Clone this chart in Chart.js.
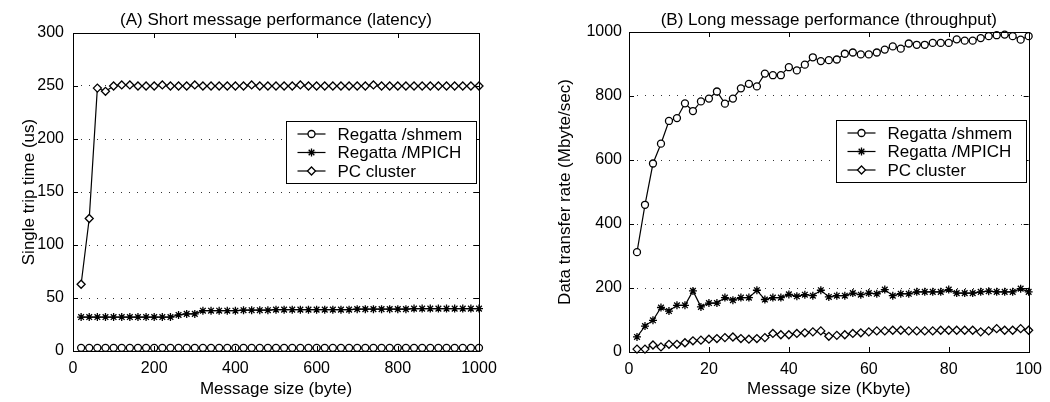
<!DOCTYPE html>
<html>
<head>
<meta charset="utf-8">
<script src="https://cdn.jsdelivr.net/npm/chart.js@4/dist/chart.umd.min.js"></script>
<style>
  body{margin:0;background:#fff;}
  #wrap{display:flex;width:1050px;height:402px;}
  canvas{display:block;}
</style>
</head>
<body>
<div id="wrap">
  <canvas id="chartA" width="525" height="402"></canvas>
  <canvas id="chartB" width="525" height="402"></canvas>
</div>
<script>
// (A) short messages, x in bytes
const sizeShort = [20,40,60,80,100,120,140,160,180,200,220,240,260,280,300,320,340,360,380,400,
  420,440,460,480,500,520,540,560,580,600,620,640,660,680,700,720,740,760,780,800,
  820,840,860,880,900,920,940,960,980,1000];
const shmemShort = [3,3,3,3,3,3,3,3,3,3,3,3,3,3,3,3,3,3,3,3,
  3,3,3,3,3,3,3,3,3,3,3,3,3,3,3,3,3,3,3,3,
  3,3,3,3,3,3,3,3,3,3];
const mpichShort = [32,32,32,32,32,32,32,32,32,32,32,32,34,35,35,38,38,38,38,38,
  38.5,38.5,38.5,38.5,39,39,39,39,39,39,39,39,39,39,39.5,39.5,39.5,39.5,39.5,39.5,
  39.5,40,40,40,40,40,40,40,40,40];
const pcShort = [63,125,248,245,250,251,251,250,250,250,251,250,250,250,251,250,250,250,250,250,
  250,251,250,250,250,250,250,251,250,250,250,250,250,250,250,250,251,250,250,250,
  250,250,250,250,250,250,250,250,250,250];
const xTicksShort = [0,200,400,600,800,1000];
const yTicksShort = [0,50,100,150,200,250,300];

// (B) long messages, x in Kbyte
const sizeLong = [2,4,6,8,10,12,14,16,18,20,22,24,26,28,30,32,34,36,38,40,
  42,44,46,48,50,52,54,56,58,60,62,64,66,68,70,72,74,76,78,80,
  82,84,86,88,90,92,94,96,98,100];
const shmemLong = [312,460,589,651,722,731,777,753,783,792,814,776,792,824,838,830,870,865,865,890,
  880,898,921,909,912,914,932,936,930,930,936,945,955,948,964,960,960,966,966,966,
  977,973,973,981,987,990,992,987,976,987];
const mpichLong = [47,81,99,139,128,146,146,191,141,153,153,170,162,170,170,193,164,170,170,180,
  174,179,176,193,172,176,176,184,179,184,182,195,176,182,182,188,188,188,188,195,
  184,184,184,188,190,188,188,188,198,188];
const pcLong = [9,9,22,16,24,24,29,35,37,40,42,45,47,42,40,42,45,58,54,54,
  58,60,63,66,49,52,54,58,60,63,66,66,68,68,66,66,66,66,68,68,
  68,68,68,63,66,73,68,68,73,68];
const xTicksLong = [0,20,40,60,80,100];
const yTicksLong = [0,200,400,600,800,1000];

const seriesNames = ["Regatta /shmem", "Regatta /MPICH", "PC cluster"];
const markers = [
  {pointStyle:"circle", radius:3.5, bw:1.3},
  {pointStyle:"star", radius:4, bw:1.3},
  {pointStyle:"rectRot", radius:4, bw:1.3}
];

Chart.defaults.font.family = "'Liberation Sans', Arial, sans-serif";
Chart.defaults.color = "#000";

function toXY(xs, ys){
  return xs.map((x,i)=>({x:x, y:ys[i]}));
}

// box, inward ticks, title and legend, MATLAB style
const frame = {
  id:"frame",
  afterDatasetsDraw(chart){
    const ctx = chart.ctx;
    const a = chart.chartArea;
    const o = chart.options.plugins.frame;
    ctx.save();
    ctx.strokeStyle = "#000";
    ctx.lineWidth = 1;
    ctx.strokeRect(Math.round(a.left)+0.5, Math.round(a.top)+0.5,
      Math.round(a.right-a.left), Math.round(a.bottom-a.top));
    const tl = 5;
    ctx.beginPath();
    chart.scales.x.ticks.forEach(t=>{
      const px = Math.round(chart.scales.x.getPixelForValue(t.value))+0.5;
      ctx.moveTo(px,a.bottom); ctx.lineTo(px,a.bottom-tl);
      ctx.moveTo(px,a.top); ctx.lineTo(px,a.top+tl);
    });
    chart.scales.y.ticks.forEach(t=>{
      const py = Math.round(chart.scales.y.getPixelForValue(t.value))+0.5;
      ctx.moveTo(a.left,py); ctx.lineTo(a.left+tl,py);
      ctx.moveTo(a.right,py); ctx.lineTo(a.right-tl,py);
    });
    ctx.stroke();

    // title
    ctx.font = "17px 'Liberation Sans', Arial";
    ctx.fillStyle = "#000";
    ctx.textAlign = "center";
    ctx.textBaseline = "alphabetic";
    ctx.fillText(o.title, (a.left+a.right)/2, 25);

    // legend
    const w = 190, h = 62;
    const bx = Math.round(a.right - 3 - w)+0.5, by = Math.round(a.top + 88)+0.5;
    ctx.fillStyle = "#fff";
    ctx.fillRect(bx,by,w,h);
    ctx.strokeRect(bx,by,w,h);
    ctx.textAlign = "left";
    ctx.textBaseline = "middle";
    seriesNames.forEach((name,i)=>{
      const cy = by + 12.5 + i*18.5;
      ctx.lineWidth = 1.2;
      ctx.beginPath();
      ctx.moveTo(bx+11,cy); ctx.lineTo(bx+39,cy);
      ctx.stroke();
      ctx.fillStyle = "#fff";
      ctx.strokeStyle = "#000";
      ctx.lineWidth = markers[i].bw;
      Chart.helpers.drawPoint(ctx, {pointStyle:markers[i].pointStyle, radius:markers[i].radius,
        borderWidth:markers[i].bw, rotation:0}, bx+25, cy);
      ctx.fillStyle = "#000";
      ctx.fillText(name, bx+51, cy+1);
    });
    ctx.restore();
  }
};

function makeChart(id, cfg){
  const datasets = cfg.series.map((ys,i)=>({
    label: seriesNames[i],
    data: toXY(cfg.xs, ys),
    borderColor:"#000",
    backgroundColor:"#fff",
    borderWidth:1.2,
    pointStyle: markers[i].pointStyle,
    pointRadius: markers[i].radius,
    pointBorderWidth: markers[i].bw,
    pointBackgroundColor:"#fff",
    pointBorderColor:"#000",
    tension:0,
    clip:false
  }));
  return new Chart(document.getElementById(id), {
    type:"line",
    data:{datasets:datasets},
    plugins:[frame],
    options:{
      responsive:false,
      animation:false,
      layout:{padding:{top:cfg.top, right:cfg.right, left:0, bottom:0}},
      plugins:{
        legend:{display:false},
        tooltip:{enabled:false},
        frame:{title:cfg.title}
      },
      scales:{
        x:{
          type:"linear",
          min:cfg.xTicks[0], max:cfg.xTicks[cfg.xTicks.length-1],
          afterBuildTicks:(s)=>{ s.ticks = cfg.xTicks.map(v=>({value:v})); },
          afterFit:(s)=>{ s.height = cfg.bottomH; },
          ticks:{font:{size:16}, padding:8, maxRotation:0, color:"#000", callback:(v)=>String(v)},
          grid:{display:false, drawTicks:false},
          border:{display:false},
          title:{display:true, text:cfg.xTitle, font:{size:17}, padding:{top:0,bottom:2}, color:"#000"}
        },
        y:{
          min:cfg.yTicks[0], max:cfg.yTicks[cfg.yTicks.length-1],
          afterBuildTicks:(s)=>{ s.ticks = cfg.yTicks.map(v=>({value:v})); },
          afterFit:(s)=>{ s.width = cfg.leftW; },
          ticks:{font:{size:16}, padding:cfg.yPad, color:"#000", callback:(v)=>String(v)},
          grid:{color:"#333", lineWidth:1, drawTicks:false},
          border:{display:false, dash:[1,7]},
          title:{display:true, text:cfg.yTitle, font:{size:17}, padding:{top:cfg.yTitlePad,bottom:0}, color:"#000"}
        }
      }
    }
  });
}

makeChart("chartA", {
  title:"(A) Short message performance (latency)",
  xTitle:"Message size (byte)",
  yTitle:"Single trip time (us)",
  xs:sizeShort,
  series:[shmemShort, mpichShort, pcShort],
  xTicks:xTicksShort, yTicks:yTicksShort,
  top:33, right:46, leftW:73, bottomH:51, yPad:9, yTitlePad:19
});

makeChart("chartB", {
  title:"(B) Long message performance (throughput)",
  xTitle:"Message size (Kbyte)",
  yTitle:"Data transfer rate (Mbyte/sec)",
  xs:sizeLong,
  series:[shmemLong, mpichLong, pcLong],
  xTicks:xTicksLong, yTicks:yTicksLong,
  top:32, right:18, leftW:104, bottomH:50, yPad:7, yTitlePad:30
});
</script>
</body>
</html>
